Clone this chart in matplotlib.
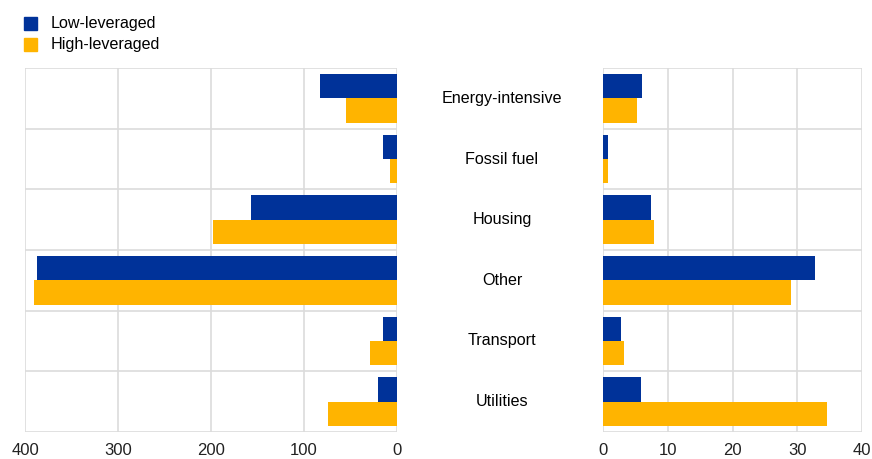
import numpy as np
import matplotlib
matplotlib.use("Agg")
import matplotlib.pyplot as plt
from matplotlib.transforms import blended_transform_factory
from matplotlib.patches import Rectangle

plt.rcParams['font.family'] = ['Liberation Sans', 'DejaVu Sans']

categories = ['Energy-intensive', 'Fossil fuel', 'Housing', 'Other', 'Transport', 'Utilities']
# left panel (axis reversed)
left_low = [83, 15, 157, 387, 15, 20]
left_high = [55, 8, 198, 390, 29, 74]
# right panel
right_low = [6.0, 0.8, 7.4, 32.8, 2.8, 5.8]
right_high = [5.2, 0.8, 7.8, 29.1, 3.3, 34.6]

BLUE = '#003299'
YELLOW = '#FFB400'
GRID = '#dcdcdc'

W, H = 872, 459
fig = plt.figure(figsize=(W / 100, H / 100), dpi=100)


def px_axes(x0, x1, y0, y1):
    return fig.add_axes([x0 / W, 1 - y1 / H, (x1 - x0) / W, (y1 - y0) / H])


def setup(ax, xmax, step):
    y = np.arange(len(categories))
    ax.set_ylim(len(categories) - 0.5, -0.5)
    ax.set_xlim(0, xmax)
    ax.set_xticks(np.arange(0, xmax + step, step))
    ax.set_yticks(np.arange(-0.5, len(categories) + 0.5, 1))
    ax.set_yticklabels([])
    ax.grid(True, color=GRID, linewidth=1.2, zorder=0)
    ax.set_axisbelow(True)
    for s in ax.spines.values():
        s.set_visible(False)
    ax.tick_params(length=0, labelsize=12, pad=8, colors='#222222')
    return y


axl = px_axes(25, 397, 68, 432)
y = setup(axl, 400, 100)
axl.barh(y - 0.2, left_low, height=0.4, color=BLUE, zorder=3)
axl.barh(y + 0.2, left_high, height=0.4, color=YELLOW, zorder=3)
axl.invert_xaxis()

axr = px_axes(603, 862, 68, 432)
y = setup(axr, 40, 10)
axr.barh(y - 0.2, right_low, height=0.4, color=BLUE, zorder=3)
axr.barh(y + 0.2, right_high, height=0.4, color=YELLOW, zorder=3)

trans = blended_transform_factory(fig.transFigure, axr.transData)
for i, c in enumerate(categories):
    fig.text(502 / W, i, c, transform=trans, ha='center', va='center',
             fontsize=11.6, color='#000000')

# legend
for i, (lab, col) in enumerate([('Low-leveraged', BLUE), ('High-leveraged', YELLOW)]):
    ytop = 17 + i * 21
    fig.patches.append(Rectangle((24 / W, 1 - (ytop + 13) / H), 13 / W, 13 / H,
                                 transform=fig.transFigure, color=col))
    fig.text(51 / W, 1 - (ytop + 6.5) / H, lab, ha='left', va='center',
             fontsize=11.6, color='#000000')

fig.savefig('out.png', dpi=100)
